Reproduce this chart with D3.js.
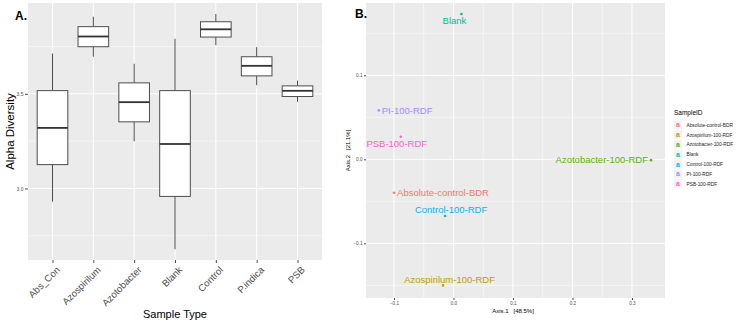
<!DOCTYPE html>
<html>
<head>
<meta charset="utf-8">
<script src="https://cdn.jsdelivr.net/npm/d3@7"></script>
<style>
  body { margin: 0; background: #fff; }
  svg { display: block; font-family: "Liberation Sans", Arial, sans-serif; }
  .pre { white-space: pre; }
</style>
</head>
<body>
<div id="chart"></div>
<script>
// Panel A: alpha diversity box plots
const sampleTypes = ["Abs_Con", "Azospirilum", "Azotobacter", "Blank", "Control", "P.indica", "PSB"];
const whiskerLow = [2.93, 3.696, 3.249, 2.679, 3.757, 3.546, 3.458];
const quart1 = [3.126, 3.749, 3.352, 2.958, 3.800, 3.595, 3.486];
const medians = [3.32, 3.803, 3.456, 3.235, 3.841, 3.648, 3.516];
const quart3 = [3.517, 3.855, 3.558, 3.517, 3.881, 3.696, 3.542];
const whiskerHigh = [3.713, 3.908, 3.659, 3.791, 3.922, 3.747, 3.570];
const alphaTicks = [3.0, 3.5];

// Panel B: PCoA ordination
const sampleIds = ["Absolute-control-BDR", "Azospirilum-100-RDF", "Azotobacter-100-RDF", "Blank", "Control-100-RDF", "PI-100-RDF", "PSB-100-RDF"];
const axis1 = [-0.0998, -0.0175, 0.332, 0.0134, -0.0141, -0.1255, -0.0886];
const axis2 = [-0.0398, -0.150, -0.001, 0.173, -0.0675, 0.0583, 0.0269];
const axis1Ticks = [-0.1, 0.0, 0.1, 0.2, 0.3];
const axis2Ticks = [-0.1, 0.0, 0.1];
const idColors = ["#F8766D", "#C49A00", "#53B400", "#00C094", "#00B6EB", "#A58AFF", "#FB61D7"];

// where each text label sits relative to its point (layout only)
const labelPlace = {
  "Absolute-control-BDR": { anchor: "start", dx: 3, dy: 0 },
  "Azospirilum-100-RDF": { anchor: "middle", dx: 6.5, dy: -6 },
  "Azotobacter-100-RDF": { anchor: "end", dx: -3, dy: 0 },
  "Blank": { anchor: "middle", dx: -7, dy: 6.5 },
  "Control-100-RDF": { anchor: "middle", dx: 6, dy: -6 },
  "PI-100-RDF": { anchor: "start", dx: 3, dy: 0 },
  "PSB-100-RDF": { anchor: "middle", dx: -4, dy: 7 },
};

const W = 740, H = 325;
const bg = "#EBEBEB";
const svg = d3.select("#chart").append("svg").attr("width", W).attr("height", H);

// ---------- Panel A ----------
{
  const m = { left: 28, top: 3 }, w = 294, h = 257;
  const g = svg.append("g").attr("transform", `translate(${m.left},${m.top})`);

  const x = d3.scalePoint().domain(sampleTypes).range([0, w]).padding(0.6);
  const y = d3.scaleLinear().domain([2.622, 3.98]).range([h, 0]);

  g.append("rect").attr("width", w).attr("height", h).attr("fill", bg);

  const minor = [2.75, 3.25, 3.75];
  g.selectAll(".minor").data(minor).join("line")
    .attr("x1", 0).attr("x2", w)
    .attr("y1", (d) => y(d)).attr("y2", (d) => y(d))
    .attr("stroke", "#fff").attr("stroke-width", 0.5);
  g.selectAll(".majory").data(alphaTicks).join("line")
    .attr("x1", 0).attr("x2", w)
    .attr("y1", (d) => y(d)).attr("y2", (d) => y(d))
    .attr("stroke", "#fff").attr("stroke-width", 1);
  g.selectAll(".majorx").data(sampleTypes).join("line")
    .attr("x1", (d) => x(d)).attr("x2", (d) => x(d))
    .attr("y1", 0).attr("y2", h)
    .attr("stroke", "#fff").attr("stroke-width", 1);

  const boxW = x.step() * 0.75;
  const boxes = g.selectAll(".box").data(sampleTypes).join("g").attr("class", "box");
  boxes.append("line")
    .attr("x1", (d) => x(d)).attr("x2", (d) => x(d))
    .attr("y1", (d, i) => y(whiskerHigh[i])).attr("y2", (d, i) => y(quart3[i]))
    .attr("stroke", "#4d4d4d").attr("stroke-width", 1);
  boxes.append("line")
    .attr("x1", (d) => x(d)).attr("x2", (d) => x(d))
    .attr("y1", (d, i) => y(quart1[i])).attr("y2", (d, i) => y(whiskerLow[i]))
    .attr("stroke", "#4d4d4d").attr("stroke-width", 1);
  boxes.append("rect")
    .attr("x", (d) => x(d) - boxW / 2).attr("width", boxW)
    .attr("y", (d, i) => y(quart3[i]))
    .attr("height", (d, i) => y(quart1[i]) - y(quart3[i]))
    .attr("fill", "#fff").attr("stroke", "#4d4d4d").attr("stroke-width", 1);
  boxes.append("line")
    .attr("x1", (d) => x(d) - boxW / 2).attr("x2", (d) => x(d) + boxW / 2)
    .attr("y1", (d, i) => y(medians[i])).attr("y2", (d, i) => y(medians[i]))
    .attr("stroke", "#333").attr("stroke-width", 1.8);

  const yAxis = g.append("g")
    .call(d3.axisLeft(y).tickValues(alphaTicks).tickFormat(d3.format(".1f")).tickSize(3).tickPadding(1.5));
  yAxis.select(".domain").remove();
  yAxis.selectAll("line").attr("stroke", "#4d4d4d");
  yAxis.selectAll("text").attr("font-size", 5).attr("fill", "#4d4d4d").attr("font-family", null);

  const xAxis = g.append("g").attr("transform", `translate(0,${h})`)
    .call(d3.axisBottom(x).tickSize(3).tickPadding(2));
  xAxis.select(".domain").remove();
  xAxis.selectAll("line").attr("stroke", "#4d4d4d");
  xAxis.selectAll("text")
    .attr("font-size", 9.6).attr("fill", "#4d4d4d").attr("font-family", null)
    .attr("text-anchor", "end").attr("dy", null).attr("y", 0)
    .attr("transform", "translate(7.5,10.5) rotate(-45)");

  svg.append("text").attr("x", 175).attr("y", 318).attr("text-anchor", "middle")
    .attr("font-size", 11).text("Sample Type");
  svg.append("text").attr("transform", `translate(13.5,${m.top + h / 2}) rotate(-90)`)
    .attr("text-anchor", "middle").attr("font-size", 11.5).text("Alpha Diversity");
  svg.append("text").attr("x", 15).attr("y", 19.5).attr("font-size", 12)
    .attr("font-weight", "bold").text("A.");
}

// ---------- Panel B ----------
{
  const m = { left: 366, top: 3 }, w = 299, h = 295;
  const g = svg.append("g").attr("transform", `translate(${m.left},${m.top})`);

  const x = d3.scaleLinear().domain([-0.147, 0.3555]).range([0, w]);
  const y = d3.scaleLinear().domain([-0.165, 0.186]).range([h, 0]);

  g.append("rect").attr("width", w).attr("height", h).attr("fill", bg);

  const minorX = [-0.05, 0.05, 0.15, 0.25];
  const minorY = [-0.15, -0.05, 0.05, 0.15];
  g.selectAll(".mx").data(minorX).join("line")
    .attr("x1", (d) => x(d)).attr("x2", (d) => x(d)).attr("y1", 0).attr("y2", h)
    .attr("stroke", "#fff").attr("stroke-width", 0.5);
  g.selectAll(".my").data(minorY).join("line")
    .attr("y1", (d) => y(d)).attr("y2", (d) => y(d)).attr("x1", 0).attr("x2", w)
    .attr("stroke", "#fff").attr("stroke-width", 0.5);
  g.selectAll(".Mx").data(axis1Ticks).join("line")
    .attr("x1", (d) => x(d)).attr("x2", (d) => x(d)).attr("y1", 0).attr("y2", h)
    .attr("stroke", "#fff").attr("stroke-width", 1);
  g.selectAll(".My").data(axis2Ticks).join("line")
    .attr("y1", (d) => y(d)).attr("y2", (d) => y(d)).attr("x1", 0).attr("x2", w)
    .attr("stroke", "#fff").attr("stroke-width", 1);

  g.selectAll(".pt").data(sampleIds).join("circle")
    .attr("cx", (d, i) => x(axis1[i])).attr("cy", (d, i) => y(axis2[i]))
    .attr("r", 1.3).attr("fill", (d, i) => idColors[i]);

  g.selectAll(".lbl").data(sampleIds).join("text")
    .attr("x", (d, i) => x(axis1[i]) + labelPlace[d].dx)
    .attr("y", (d, i) => y(axis2[i]) + labelPlace[d].dy)
    .attr("dy", "0.35em")
    .attr("text-anchor", (d) => labelPlace[d].anchor)
    .attr("font-size", 9.5)
    .attr("fill", (d, i) => idColors[i])
    .text((d) => d);

  const xAxis = g.append("g").attr("transform", `translate(0,${h})`)
    .call(d3.axisBottom(x).tickValues(axis1Ticks).tickFormat(d3.format(".1f")).tickSize(2).tickPadding(1.5));
  xAxis.select(".domain").remove();
  xAxis.selectAll("line").attr("stroke", "#4d4d4d");
  xAxis.selectAll("text").attr("font-size", 4.6).attr("fill", "#4d4d4d").attr("font-family", null);

  const yAxis = g.append("g")
    .call(d3.axisLeft(y).tickValues(axis2Ticks).tickFormat(d3.format(".1f")).tickSize(2).tickPadding(1.5));
  yAxis.select(".domain").remove();
  yAxis.selectAll("line").attr("stroke", "#4d4d4d");
  yAxis.selectAll("text").attr("font-size", 4.6).attr("fill", "#4d4d4d").attr("font-family", null);

  svg.append("text").attr("class", "pre").attr("x", m.left + x(0.1)).attr("y", 313)
    .attr("text-anchor", "middle").attr("font-size", 6).text("Axis.1   [48.5%]");
  svg.append("text").attr("class", "pre")
    .attr("transform", `translate(350,${m.top + h / 2}) rotate(-90)`)
    .attr("text-anchor", "middle").attr("font-size", 6).text("Axis.2   [21.1%]");
  svg.append("text").attr("x", 355).attr("y", 17.5).attr("font-size", 12)
    .attr("font-weight", "bold").text("B.");

  // legend
  const lg = svg.append("g").attr("transform", "translate(674,113)");
  lg.append("text").attr("x", 0).attr("y", 2).attr("font-size", 6.5).text("SampleID");
  const items = lg.selectAll(".item").data(sampleIds).join("g")
    .attr("transform", (d, i) => `translate(0,${12 + i * 9.8})`);
  items.append("rect").attr("x", 0).attr("y", -4.5).attr("width", 8).attr("height", 9)
    .attr("fill", "#F2F2F2");
  items.append("text").attr("x", 4).attr("y", 2.3).attr("text-anchor", "middle")
    .attr("font-size", 7).attr("font-weight", "bold")
    .attr("fill", (d, i) => idColors[i]).text("a");
  items.append("text").attr("x", 12.5).attr("y", 1.7).attr("font-size", 4.8)
    .attr("fill", "#222").text((d) => d);
}
</script>
</body>
</html>
